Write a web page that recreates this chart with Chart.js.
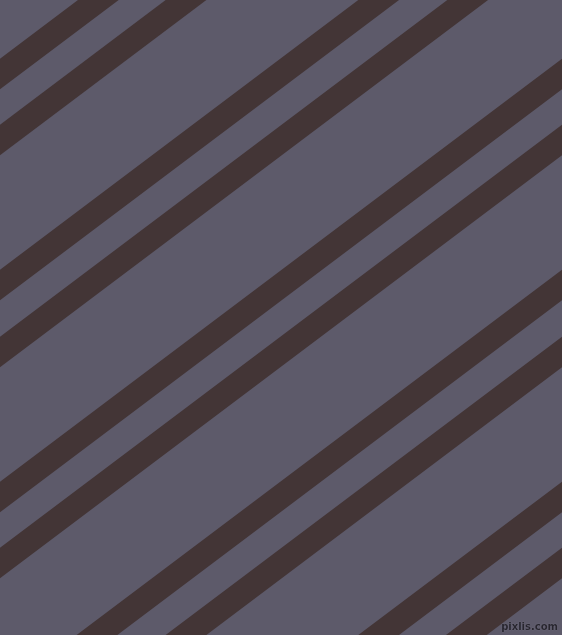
<!DOCTYPE html>
<html>
<head>
<meta charset="utf-8">
<script src="https://cdn.jsdelivr.net/npm/chart.js@4/dist/chart.umd.min.js"></script>
<style>
  html, body { margin: 0; padding: 0; background: #5d5a6a; }
  #wrap { position: relative; width: 562px; height: 635px; overflow: hidden; }
  #mark {
    position: absolute; right: 4px; bottom: 3px;
    font: bold 10px "DejaVu Sans", sans-serif; color: #28262f;
    text-shadow: 0 0 1px #8a8799;
  }
</style>
</head>
<body>
<div id="wrap">
  <canvas id="stripes"></canvas>
  <div id="mark">pixlis.com</div>
</div>
<script>
// stripe centre lines: y at left edge and y at right edge
var leftY  = [74, 140, 285, 352, 497, 563, 708, 775, 920, 986];
var rightY = [-349, -283, -138, -71, 74, 140, 285, 352, 497, 563];
var edgeX  = [0, 562];

var stripeColor = '#433536';

document.addEventListener('DOMContentLoaded', () => {
  var ctx = document.getElementById('stripes').getContext('2d');

  var sets = leftY.map(function (ly, i) {
    return {
      data: [{ x: edgeX[0], y: ly }, { x: edgeX[1], y: rightY[i] }],
      borderColor: stripeColor,
      borderWidth: 24.5,
      borderCapStyle: 'square',
      pointRadius: 0,
      tension: 0,
      fill: false
    };
  });

  new Chart(ctx, {
    type: 'line',
    data: { datasets: sets },
    options: {
      responsive: true,
      maintainAspectRatio: false,
      animation: false,
      layout: { padding: 0 },
      plugins: { legend: { display: false }, tooltip: { enabled: false } },
      scales: {
        x: { type: 'linear', min: 0, max: 562, display: false },
        y: { type: 'linear', min: 0, max: 635, reverse: true, display: false }
      }
    }
  });
});
</script>
</body>
</html>
